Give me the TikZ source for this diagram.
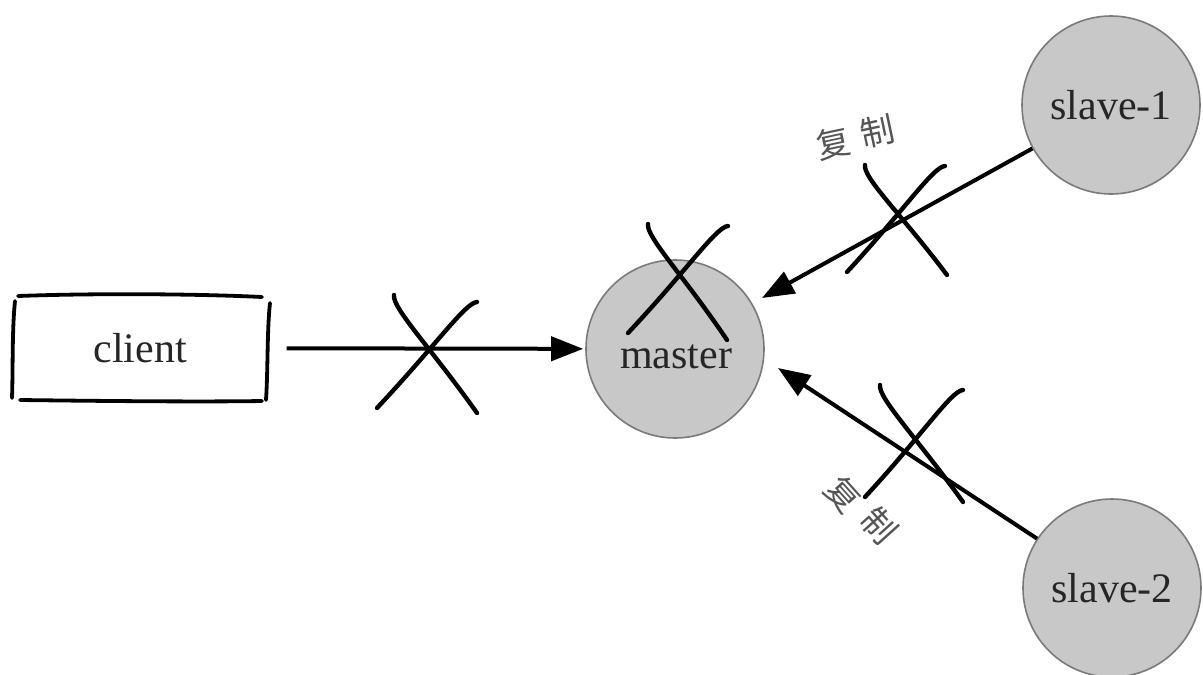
\documentclass[tikz,border=0pt]{standalone}
\usepackage{fontspec}
\setmainfont{Liberation Serif}
\newfontfamily\cjk{Noto Sans CJK SC}
\usetikzlibrary{arrows.meta}
\definecolor{nodefill}{HTML}{C8C8C8}
\definecolor{nodeline}{HTML}{7A7A7A}
\definecolor{txt}{HTML}{262626}
\definecolor{cjktxt}{HTML}{555555}
\begin{document}
\begin{tikzpicture}[x=1pt,y=-1pt,
  every node/.style={font=\fontsize{42}{44}\selectfont, text=txt},
  round/.style={circle, fill=nodefill, draw=nodeline, line width=1.6pt, minimum size=178pt, inner sep=0pt},
  boxnode/.style={minimum width=255pt, minimum height=104pt, inner sep=0pt},
  sketch/.style={line width=3.8pt, line cap=round, black},
  xmark/.style={line width=4.4pt, line cap=round, line join=round, black},
  arr/.style={line width=4pt, black, -{Triangle[length=32pt,width=24pt]}},
  cjklabel/.style={font=\cjk\fontsize{34}{36}\selectfont, text=cjktxt, inner sep=0pt}
]
\useasboundingbox (0,0) rectangle (1203,675);
\fill[white] (0,0) rectangle (1203,675);

% nodes
\node[boxnode] (client) at (140,348) {client};
\node[round] (m) at (675,349) {};
\node at (676,357) (mtext) {master};
\node[round] (s1) at (1111,105) {slave-1};
\node[round] (s2) at (1112,588) {slave-2};

% hand-drawn box of client
\draw[sketch] (18,296) .. controls (100,293) and (200,294) .. (262,297);
\draw[sketch] (20,400) .. controls (100,401) and (200,402) .. (262,401);
\draw[sketch] (15,301) .. controls (12,330) and (13,370) .. (12,398);
\draw[sketch] (270,303) .. controls (267,330) and (268,370) .. (266,400);

% target coordinates
\coordinate (t1) at (762,298);
\coordinate (t2) at (778,368);

% arrows
\draw[arr, shorten <=19pt, shorten >=2pt] (client) -- (m);
\draw[arr] (s1) -- (t1);
\draw[arr] (s2) -- (t2);

% labels
\node[cjklabel, rotate=12] (l1a) at (833,143) {复};
\node[cjklabel, rotate=12] (l1b) at (877,131) {制};
\node[cjklabel, rotate=-48] (l2a) at (843,494) {复};
\node[cjklabel, rotate=-48] (l2b) at (879,526) {制};

% crosses: client arrow
\draw[xmark] (394,295) .. controls (392,308) and (431,348) .. (477,413);
\draw[xmark] (477,302) .. controls (465,303) and (437,344) .. (377,408);
% master
\draw[xmark] (648,224) .. controls (646,237) and (684,276) .. (727,340);
\draw[xmark] (728,226) .. controls (716,227) and (688,269) .. (628,333);
% slave-1 arrow
\draw[xmark] (865,165) .. controls (863,178) and (902,215) .. (947,275);
\draw[xmark] (945,166) .. controls (933,167) and (906,208) .. (847,272);
% slave-2 arrow
\draw[xmark] (880,385) .. controls (878,398) and (917,438) .. (963,502);
\draw[xmark] (963,390) .. controls (951,391) and (924,433) .. (865,497);
\end{tikzpicture}
\end{document}
